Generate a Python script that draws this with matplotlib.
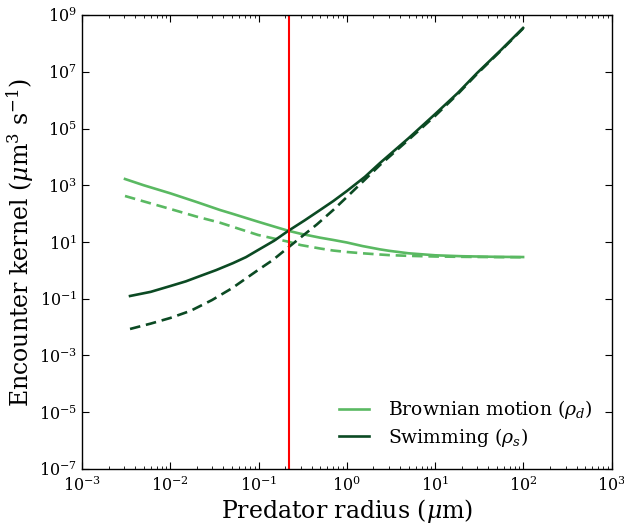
import matplotlib
matplotlib.use("Agg")
import matplotlib.pyplot as plt
from matplotlib.ticker import LogLocator, LogFormatterSciNotation, FixedLocator

# values (predator radius in um, kernel in um^3 s^-1)
r_brown = [0.00307, 0.005, 0.01, 0.02, 0.0366, 0.05, 0.0986, 0.15, 0.2156, 0.3,
           0.497, 0.7, 1.0, 1.5, 2.37, 3.0, 5.0, 10.0, 20.0, 50.0, 99.0]
brown_solid = [1660, 1000, 520, 255, 134, 100, 51.9, 35, 25.0, 19.5,
               14.2, 11.8, 9.6, 7.2, 5.5, 4.9, 4.0, 3.4, 3.15, 3.0, 2.95]
brown_dashed = [418, 270, 146, 78, 47.9, 35, 17.7, 13.2, 10.3, 7.8,
                5.9, 5.0, 4.44, 4.0, 3.62, 3.45, 3.25, 3.08, 3.0, 2.93, 2.9]

r_swim = [0.0035, 0.006, 0.01, 0.015, 0.0217, 0.033, 0.0513, 0.072, 0.0986, 0.15,
          0.2156, 0.33, 0.497, 0.7, 1.0, 1.6, 2.37, 5.0, 10.0, 18.0, 29.8, 55.0, 99.0]
swim_solid = [0.125, 0.175, 0.28, 0.41, 0.63, 1.02, 1.8, 2.93, 5.2, 11.1,
              24.4, 57, 134, 276, 627, 1980, 6080, 45600, 3.24e5, 1.78e6, 9.0e6, 5.65e7, 3.5e8]
r_swim_d = [0.0035, 0.006, 0.01, 0.017, 0.0297, 0.05, 0.0986, 0.145, 0.1995, 0.294,
            0.459, 0.7, 1.0, 1.6, 2.37, 5.0, 10.0, 18.0, 29.8, 55.0, 99.0]
swim_dashed = [0.0086, 0.0133, 0.021, 0.0376, 0.090, 0.235, 1.03, 2.32, 5.2, 13.8,
               42, 134, 385, 1580, 5170, 40300, 2.8e5, 1.63e6, 8.4e6, 5.4e7, 3.35e8]

r_cut = 0.22

light = "#5ab962"
dark = "#0b4a23"

plt.rcParams["font.family"] = "DejaVu Serif"
plt.rcParams["mathtext.fontset"] = "dejavuserif"

fig = plt.figure(figsize=(6.24, 5.25), dpi=100)
ax = fig.add_axes([0.1314, 0.1067, 0.849, 0.8647])

ax.plot(r_brown, brown_solid, color=light, lw=1.9, label=r"Brownian motion ($\rho_d$)")
ax.plot(r_brown, brown_dashed, color=light, lw=1.9, ls=(0, (4, 2.2)))
ax.plot(r_swim, swim_solid, color=dark, lw=1.9, label=r"Swimming ($\rho_s$)")
ax.plot(r_swim_d, swim_dashed, color=dark, lw=1.9, ls=(0, (4, 2.2)))
ax.axvline(r_cut, color="red", lw=1.5)

ax.set_xscale("log")
ax.set_yscale("log")
ax.set_xlim(1e-3, 1e3)
ax.set_ylim(1e-7, 1e9)

ax.xaxis.set_major_locator(LogLocator(base=10, numticks=20))
ax.xaxis.set_minor_locator(LogLocator(base=10, subs=range(2, 10), numticks=20))
ax.yaxis.set_major_locator(FixedLocator([10.0 ** e for e in range(-7, 10, 2)]))
ax.yaxis.set_major_formatter(LogFormatterSciNotation(base=10))
ax.yaxis.set_minor_locator(plt.NullLocator())

ax.tick_params(which="both", direction="in", top=True, right=True, labelsize=11.5)
ax.tick_params(which="major", length=5, width=0.8)
ax.tick_params(which="minor", length=2.5, width=0.6)
ax.tick_params(axis="x", pad=5)
for s in ax.spines.values():
    s.set_linewidth(1.0)

ax.set_xlabel(r"Predator radius ($\mu$m)", fontsize=17, labelpad=1)
ax.set_ylabel(r"Encounter kernel ($\mu$m$^3$ s$^{-1}$)", fontsize=17, labelpad=2)

ax.legend(loc="lower right", frameon=False, fontsize=13.5, handlelength=1.6,
          handletextpad=1.0, labelspacing=0.25, borderaxespad=0,
          bbox_to_anchor=(0.978, 0.028))

fig.savefig("out.png", dpi=100)
